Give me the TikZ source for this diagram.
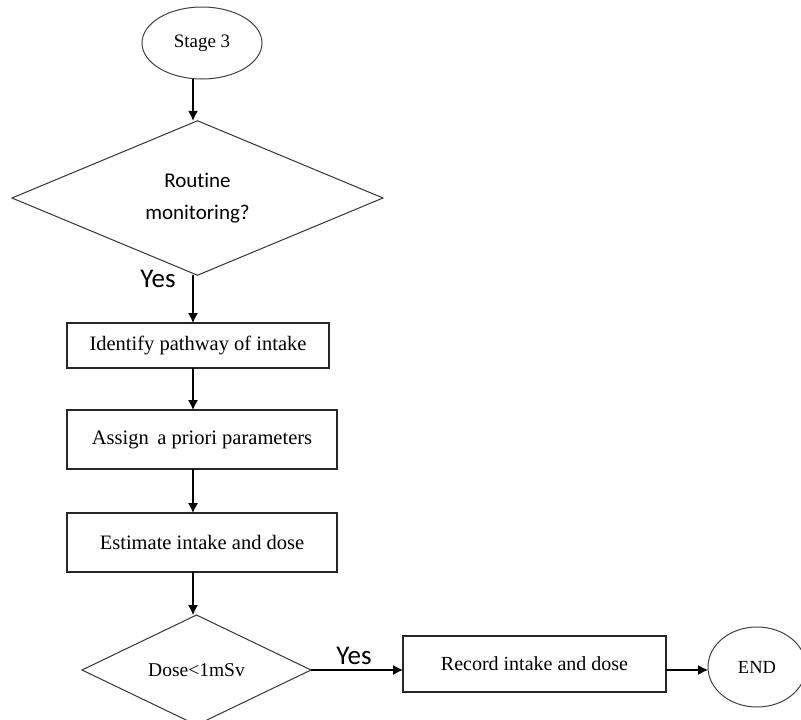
\documentclass[tikz,border=0pt]{standalone}
\usepackage{fontspec}
\setmainfont{Liberation Serif}
\newfontfamily\labelfont[Ligatures=NoCommon]{Carlito}
\usetikzlibrary{shapes.geometric,arrows.meta}

\begin{document}
\begin{tikzpicture}[x=1pt,y=-1pt,
  line width=1.2pt,
  every node/.style={inner sep=0pt,outer sep=0pt,text=black},
  stepbox/.style={draw=black!85,rectangle,font=\fontsize{20.5}{24}\selectfont},
  termnode/.style={draw=black!75,line width=1pt,ellipse},
  decide/.style={draw=black!80,diamond,line width=1pt},
  lbl/.style={font=\labelfont\fontsize{27}{30}\selectfont},
  arr/.style={draw=black,-{Latex[length=10pt,width=10pt]}}
]
\useasboundingbox (0,0) rectangle (801,720);
\clip (0,0) rectangle (801,720);

% start terminal
\node[termnode,minimum width=120pt,minimum height=72pt,font=\fontsize{19}{21}\selectfont] (stage) at (202,43) {Stage 3};

% first decision
\node[decide,minimum width=371pt,minimum height=150pt,align=center,
      font=\labelfont\fontsize{21}{32}\selectfont] (d1) at (197.5,198) {Routine\\monitoring?};

% process steps
\node[stepbox,minimum width=262pt,minimum height=45pt] (b1) at (198,345.5) {Identify pathway of intake};
\node[stepbox,minimum width=270pt,minimum height=59pt] (b2) at (202,439.5) {Assign\, a priori parameters};
\node[stepbox,minimum width=270pt,minimum height=59pt] (b3) at (202,542.5) {Estimate intake and dose};

% dose check
\node[decide,minimum width=229pt,minimum height=110pt,font=\fontsize{19.5}{22}\selectfont] (d2) at (196.5,670) {Dose<1mSv};

% record and end
\node[stepbox,minimum width=263pt,minimum height=56pt,font=\fontsize{20}{22}\selectfont] (b4) at (534.5,664) {Record intake and dose};
\node[termnode,minimum width=98pt,minimum height=80pt,font=\fontsize{18.5}{20}\selectfont] (endn) at (757,667) {END};

% vertical spine of the flow
\coordinate (spine) at (193,0);

\draw[arr] (stage.south -| spine) -- (d1.north -| spine);
\draw[arr] (d1.south -| spine) -- (b1.north -| spine);
\draw[arr] (b1.south -| spine) -- (b2.north -| spine);
\draw[arr] (b2.south -| spine) -- (b3.north -| spine);
\draw[arr] (b3.south -| spine) -- (d2.north -| spine);
\draw[arr] (d2.east) -- (b4.west |- d2.east);
\draw[arr] (b4.east |- d2.east) -- (endn.west |- d2.east);

% branch labels
\node[lbl] (yes1) at (158,279) {Yes};
\node[lbl] (yes2) at (354,656) {Yes};
\end{tikzpicture}
\end{document}
